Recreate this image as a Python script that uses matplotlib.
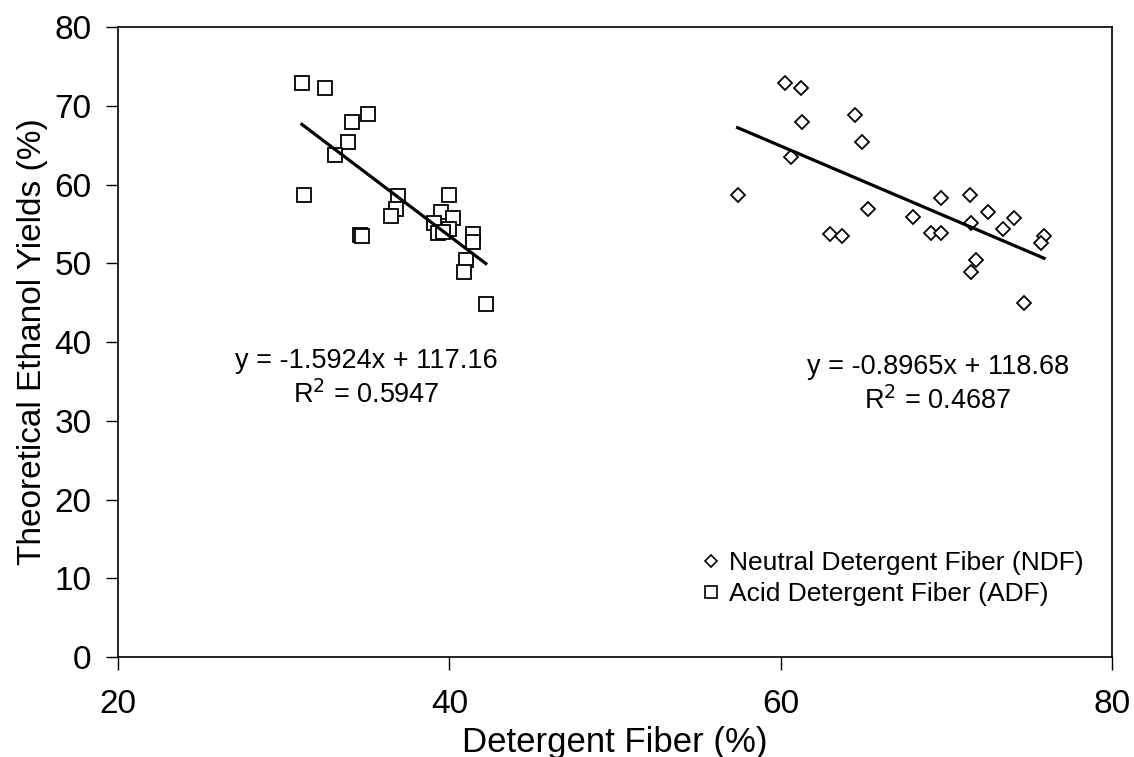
import matplotlib
matplotlib.use("Agg")
import matplotlib.pyplot as plt
from matplotlib.lines import Line2D
import numpy as np

plt.rcParams['font.family'] = ['Liberation Sans', 'DejaVu Sans']

# ADF data (square markers)
adf_x = [31.1, 32.5, 35.1, 34.1, 33.9, 33.1, 31.2, 36.9, 36.8, 36.5, 34.6, 34.7,
         40.0, 39.5, 40.2, 39.1, 40.0, 39.3, 39.6, 41.4, 41.4, 41.0, 40.9, 42.2]
adf_y = [72.9, 72.3, 68.9, 68.0, 65.4, 63.7, 58.7, 58.5, 56.9, 56.0, 53.6, 53.5,
         58.7, 56.5, 55.8, 55.1, 54.4, 53.9, 54.0, 53.7, 52.7, 50.4, 48.9, 44.8]

# NDF data (diamond markers)
ndf_x = [60.25, 61.2, 61.3, 64.5, 64.9, 60.6, 57.4, 65.3, 63.0, 63.7, 68.0, 69.1,
         69.7, 69.7, 71.4, 71.5, 72.5, 74.1, 73.4, 75.9, 75.7, 71.8, 71.5, 74.7]
ndf_y = [72.9, 72.2, 67.9, 68.8, 65.4, 63.5, 58.7, 56.9, 53.7, 53.4, 55.9, 53.9,
         53.9, 58.3, 58.7, 55.1, 56.5, 55.8, 54.4, 53.5, 52.6, 50.4, 48.9, 44.9]

# Trendline coefficients (slope, intercept) and R^2
adf_fit = (-1.5924, 117.16, 0.5947)
ndf_fit = (-0.8965, 118.68, 0.4687)

x_ticks = [20, 40, 60, 80]
y_ticks = [0, 10, 20, 30, 40, 50, 60, 70, 80]

fig = plt.figure(figsize=(11.34, 7.57), dpi=100)
ax = fig.add_axes([0.1041, 0.1321, 0.8765, 0.8322])

ax.plot(ndf_x, ndf_y, linestyle='none', marker='D', markersize=6.8,
        markerfacecolor='white', markeredgecolor='black', markeredgewidth=1.3, zorder=3)
ax.plot(adf_x, adf_y, linestyle='none', marker='s', markersize=10,
        markerfacecolor='white', markeredgecolor='black', markeredgewidth=1.3, zorder=3)

for xs, (m, b, r2) in ((adf_x, adf_fit), (ndf_x, ndf_fit)):
    xl = np.array([min(xs), max(xs)])
    ax.plot(xl, m * xl + b, color='black', linewidth=2.3, zorder=4)

ax.text(35.0, 37.6, 'y = -1.5924x + 117.16', fontsize=19.5, ha='center', va='center')
ax.text(35.0, 33.3, r'R$^2$ = 0.5947', fontsize=19.5, ha='center', va='center')
ax.text(69.5, 36.8, 'y = -0.8965x + 118.68', fontsize=19.5, ha='center', va='center')
ax.text(69.5, 32.6, r'R$^2$ = 0.4687', fontsize=19.5, ha='center', va='center')

ax.set_xlim(20, 80)
ax.set_ylim(0, 80)
ax.set_xticks(x_ticks)
ax.set_yticks(y_ticks)
ax.tick_params(axis='both', direction='out', length=9, width=1, labelsize=24, pad=10)
ax.tick_params(axis='x', pad=14)
for s in ax.spines.values():
    s.set_linewidth(1.2)

ax.set_xlabel('Detergent Fiber (%)', fontsize=25, labelpad=4)
ax.set_ylabel('Theoretical Ethanol Yields (%)', fontsize=24, labelpad=5)

handles = [
    Line2D([], [], linestyle='none', marker='D', markersize=6, markerfacecolor='white',
           markeredgecolor='black', markeredgewidth=1.2, label='Neutral Detergent Fiber (NDF)'),
    Line2D([], [], linestyle='none', marker='s', markersize=9, markerfacecolor='white',
           markeredgecolor='black', markeredgewidth=1.2, label='Acid Detergent Fiber (ADF)'),
]
ax.legend(handles=handles, loc='lower right', bbox_to_anchor=(0.985, 0.06),
          frameon=False, fontsize=19, handlelength=0.8, handletextpad=0.3,
          labelspacing=0.25, borderpad=0)

fig.savefig('out.png', dpi=100)
